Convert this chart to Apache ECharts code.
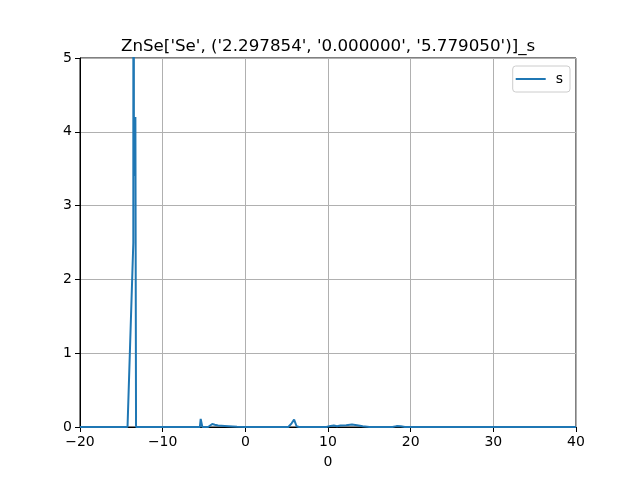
<!DOCTYPE html>
<html>
<head>
<meta charset="utf-8">
<script src="https://cdn.jsdelivr.net/npm/echarts@6/dist/echarts.min.js"></script>
<style>
  html, body { margin: 0; padding: 0; background: #fff; }
  #main { width: 640px; height: 480px; }
</style>
</head>
<body>
<div id="main"></div>
<script>
// energy (x) and s-projected DOS (y)
var energy = [-20, -14.25, -13.55, -13.52, -13.48, -13.3, -13.22, -6.0, -5.5, -5.4, -5.3, -5.2,
    -4.5, -4.0, -3.7, -3.3, -2.5, -1.0, 0, 5.2, 5.6, 5.9, 6.2, 6.5, 9.8, 10.3, 10.7, 11.1,
    11.5, 12.2, 12.9, 13.5, 14.2, 15.0, 17.8, 18.3, 18.8, 19.3, 25, 40];
var dosS = [0, 0, 2.5, 30, 3.4, 4.2, 0, 0, 0, 0.11, 0.1, 0,
    0, 0.04, 0.03, 0.02, 0.015, 0.005, 0, 0, 0.05, 0.1, 0.01, 0, 0, 0.015, 0.02, 0.01,
    0.02, 0.025, 0.035, 0.025, 0.01, 0, 0, 0.012, 0.01, 0, 0, 0];
var titleText = "ZnSe['Se', ('2.297854', '0.000000', '5.779050')]_s";
var seriesName = 's';
var xAxisName = '0';

var font = 'DejaVu Sans';
var minus = function (v) { return String(v).replace('-', '\u2212'); };

var points = energy.map(function (e, i) { return [e, dosS[i]]; });

var myChart = echarts.init(document.getElementById('main'));

option = {
    animation: false,
    title: {
        text: titleText,
        left: 116,
        top: 33,
        textStyle: { fontFamily: font, fontSize: 16.7, fontWeight: 'normal', color: '#000' }
    },
    legend: {
        data: [seriesName],
        right: 70,
        top: 66,
        orient: 'vertical',
        itemWidth: 30,
        itemHeight: 2,
        itemGap: 4,
        padding: [6, 7, 6, 3],
        borderColor: '#cccccc',
        borderWidth: 1,
        borderRadius: 3,
        icon: 'rect',
        textStyle: { fontFamily: font, fontSize: 14, color: '#000', padding: [0, 0, 0, 5] }
    },
    grid: {
        left: 80,
        right: 64,
        top: 58,
        bottom: 53,
        show: true,
        borderColor: '#000',
        borderWidth: 1
    },
    xAxis: {
        type: 'value',
        min: -20,
        max: 40,
        interval: 10,
        name: xAxisName,
        nameLocation: 'middle',
        nameGap: 28,
        nameTextStyle: { fontFamily: font, fontSize: 14, color: '#000' },
        axisLine: { show: true, onZero: false, lineStyle: { color: '#000' } },
        axisTick: { show: true, inside: false, length: 5, lineStyle: { color: '#000' } },
        axisLabel: { fontFamily: font, fontSize: 14, color: '#000', margin: 8, formatter: minus },
        splitLine: { show: true, lineStyle: { color: '#b0b0b0', width: 1 } }
    },
    yAxis: {
        type: 'value',
        min: 0,
        max: 5,
        interval: 1,
        axisLine: { show: true, onZero: false, lineStyle: { color: '#000' } },
        axisTick: { show: true, inside: false, length: 5, lineStyle: { color: '#000' } },
        axisLabel: { fontFamily: font, fontSize: 14, color: '#000', margin: 8 },
        splitLine: { show: true, lineStyle: { color: '#b0b0b0', width: 1 } }
    },
    series: [{
        name: seriesName,
        type: 'line',
        data: points,
        symbol: 'none',
        clip: true,
        lineStyle: { color: '#1f77b4', width: 2 },
        itemStyle: { color: '#1f77b4' }
    }]
};

myChart.setOption(option);
</script>
</body>
</html>
